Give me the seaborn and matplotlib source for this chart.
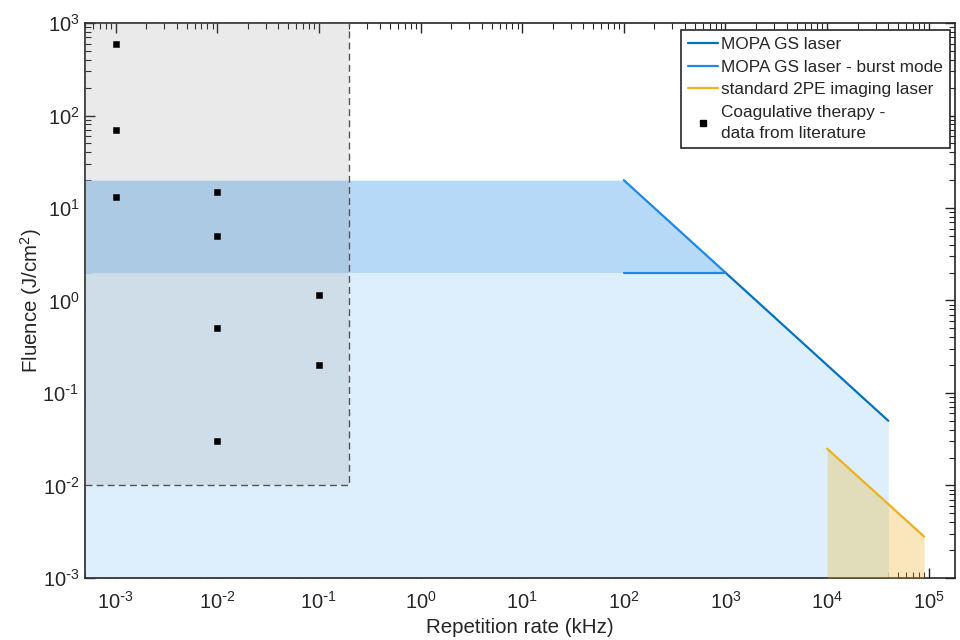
import numpy as np
import pandas as pd
import seaborn as sns
import matplotlib.pyplot as plt
from matplotlib.lines import Line2D
from matplotlib.ticker import LogLocator, NullFormatter, FuncFormatter

# repetition rate in kHz, fluence in J/cm^2
x_range = [5e-4, 1.8e5]
y_range = [1e-3, 1e3]

mopa_rate = [1e3, 4e4]
mopa_fluence = [2, 0.05]

burst_rate = [1e2, 1e3]
burst_fluence = [20, 2]
burst_floor = 2

standard_rate = [1e4, 9e4]
standard_fluence = [0.025, 0.0028]

coag_rate = [1e-3, 1e-3, 1e-3, 1e-2, 1e-2, 1e-2, 1e-2, 1e-1, 1e-1]
coag_fluence = [600, 70, 13, 15, 5, 0.5, 0.03, 1.15, 0.2]
coag_rate_max = 0.2
coag_fluence_min = 0.01

c_mopa = "#0072BD"
c_burst = "#1E88E5"
c_std = "#EDB120"

sns.set_theme(style="ticks")
plt.rcParams["font.family"] = ["Liberation Sans", "DejaVu Sans"]
plt.rcParams["mathtext.default"] = "regular"
plt.rcParams["axes.unicode_minus"] = False


def pow10(v, pos):
    k = int(round(np.log10(v)))
    if k < 0:
        return "$10^{\\text{-}%d}$" % (-k)
    return "$10^{%d}$" % k


fig = plt.figure(figsize=(9.6, 6.4), dpi=100)
ax = fig.add_axes([0.0885, 0.097, 0.906, 0.867])
ax.set_xscale("log")
ax.set_yscale("log")

# MOPA GS laser region (light blue)
mx = [x_range[0]] + mopa_rate
my = [mopa_fluence[0]] + mopa_fluence
ax.fill_between(mx, y_range[0], my, color="#DDEFFC", lw=0, zorder=1)

# burst mode region (darker blue)
bx = [x_range[0]] + burst_rate
by = [burst_fluence[0]] + burst_fluence
ax.fill_between(bx, burst_floor, by, color="#B6D9F8", lw=0, zorder=2)

# standard 2PE laser region
ax.fill_between(standard_rate, y_range[0], standard_fluence,
                color=c_std, alpha=0.3, lw=0, zorder=3)

# coagulative therapy window
ax.fill_between([x_range[0], coag_rate_max], coag_fluence_min, y_range[1],
                color="gray", alpha=0.16, lw=0, zorder=4)
ax.plot([x_range[0], coag_rate_max, coag_rate_max],
        [coag_fluence_min, coag_fluence_min, y_range[1]],
        ls=(0, (5, 3)), color="#555555", lw=1, zorder=5)

# lines
sns.lineplot(x=mopa_rate, y=mopa_fluence, color=c_mopa, lw=1.6, sort=False,
             estimator=None, ax=ax, zorder=6)
sns.lineplot(x=burst_rate, y=burst_fluence, color=c_burst, lw=1.6, sort=False,
             estimator=None, ax=ax, zorder=6)
sns.lineplot(x=burst_rate, y=[burst_floor, burst_floor], color=c_burst, lw=1.6,
             sort=False, estimator=None, ax=ax, zorder=6)
sns.lineplot(x=standard_rate, y=standard_fluence, color=c_std, lw=1.6, sort=False,
             estimator=None, ax=ax, zorder=6)

coag = pd.DataFrame({"rate": coag_rate, "fluence": coag_fluence})
sns.scatterplot(data=coag, x="rate", y="fluence", marker="s", color="black",
                s=22, edgecolor="black", ax=ax, zorder=7)

ax.set_xlim(x_range)
ax.set_ylim(y_range)
ax.set_xticks([10.0**k for k in range(-3, 6)])
ax.set_yticks([10.0**k for k in range(-3, 4)])
ax.xaxis.set_major_formatter(FuncFormatter(pow10))
ax.yaxis.set_major_formatter(FuncFormatter(pow10))
ax.xaxis.set_minor_locator(LogLocator(base=10, subs=np.arange(2, 10), numticks=20))
ax.yaxis.set_minor_locator(LogLocator(base=10, subs=np.arange(2, 10), numticks=20))
ax.xaxis.set_minor_formatter(NullFormatter())
ax.yaxis.set_minor_formatter(NullFormatter())
ax.tick_params(which="both", direction="in", top=True, right=True,
               color="#262626", labelsize=14.5, labelcolor="#262626")
ax.tick_params(which="major", length=7, width=1)
ax.tick_params(which="minor", length=4, width=0.8)
ax.tick_params(axis="x", which="major", pad=9)
ax.tick_params(axis="y", which="major", pad=4)
for s in ax.spines.values():
    s.set_color("#262626")
    s.set_linewidth(1.2)

ax.set_xlabel("Repetition rate (kHz)", fontsize=14.8, color="#262626", labelpad=4)
ax.set_ylabel("Fluence (J/cm$^{2}$)", fontsize=14.8, color="#262626")
ax.yaxis.set_label_coords(-0.047, 0.5)

handles = [
    Line2D([], [], color=c_mopa, lw=1.6),
    Line2D([], [], color=c_burst, lw=1.6),
    Line2D([], [], color=c_std, lw=1.6),
    Line2D([], [], ls="none", marker="s", color="black", markersize=5),
]
labels = ["MOPA GS laser", "MOPA GS laser - burst mode",
          "standard 2PE imaging laser", "Coagulative therapy -\ndata from literature"]
leg = ax.legend(handles, labels, loc="upper right", fontsize=12.4, frameon=True,
                fancybox=False, edgecolor="#262626", framealpha=1,
                handlelength=1.75, handletextpad=0.2, borderpad=0.38,
                labelspacing=0.45, borderaxespad=0,
                bbox_to_anchor=(0.9943, 0.987))
leg.get_frame().set_linewidth(1.2)
for t in leg.get_texts():
    t.set_linespacing(1.5)

fig.savefig("out.png", dpi=100)
